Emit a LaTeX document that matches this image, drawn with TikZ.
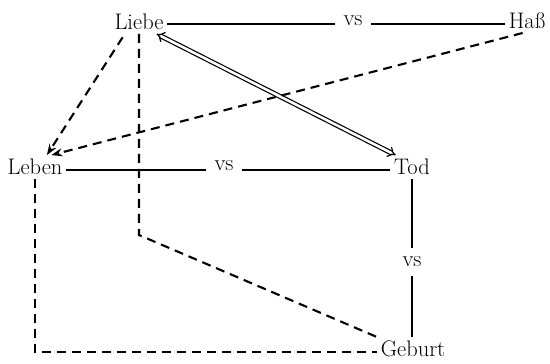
\documentclass[tikz,border=0pt]{standalone}
\usepackage{fontspec}
\setmainfont{Latin Modern Roman}
\usetikzlibrary{arrows.meta}
\begin{document}
\begin{tikzpicture}[x=1pt,y=-1pt,
  lbl/.style={font=\fontsize{22.5}{27}\selectfont, inner sep=4pt, outer sep=0pt},
  vsl/.style={lbl, inner sep=9pt},
  solidline/.style={line width=1.6pt},
  dashline/.style={line width=2.1pt, dash pattern=on 9pt off 6pt},
  dblarrow/.style={double, double distance=2.6pt, line width=1.2pt, {Implies[scale=1.4]}-{Implies[scale=1.4]}},
  tipped/.style={-{Stealth[length=11pt,width=8pt]}}]
\useasboundingbox (0,0) rectangle (550,364);
% nodes
\node[lbl] (liebe) at (139,22) {Liebe};
\node[vsl] (vs1) at (353,21) {vs};
\node[lbl] (hass) at (527,21) {Haß};
\node[lbl] (leben) at (35,167) {Leben};
\node[vsl] (vs2) at (224,166) {vs};
\node[lbl] (tod) at (412,167) {Tod};
\node[vsl] (vs3) at (412,262) {vs};
\node[lbl] (geburt) at (413,349) {Geburt};
\coordinate (c1) at (137,235);
% solid oppositions
\draw[solidline] ([yshift=-2pt]liebe.east) -- ([yshift=-2pt]liebe.east -| vs1.west);
\draw[solidline] ([yshift=-2pt]liebe.east -| vs1.east) -- ([yshift=-2pt]liebe.east -| hass.west);
\draw[solidline] ([yshift=-3pt]leben.east) -- ([yshift=-3pt]leben.east -| vs2.west);
\draw[solidline] ([yshift=-3pt]leben.east -| vs2.east) -- ([yshift=-3pt]leben.east -| tod.west);
\draw[solidline] (tod.south) -- (tod.south |- vs3.north);
\draw[solidline] (tod.south |- vs3.south) -- (tod.south |- geburt.north);
% double arrow
\draw[dblarrow] (liebe.326) -- (tod.144);
% dashed
\draw[dashline,tipped,shorten <=4pt] (liebe.220) -- (leben.45);
\draw[dashline,tipped] (hass.250) -- (leben.36);
\draw[dashline] (liebe.south) -- (liebe.south |- c1) -- (geburt.north west);
\draw[dashline] (leben.south) -- ([yshift=-3pt]leben.south |- geburt.west) -- ([yshift=-3pt]geburt.west);
\end{tikzpicture}
\end{document}
